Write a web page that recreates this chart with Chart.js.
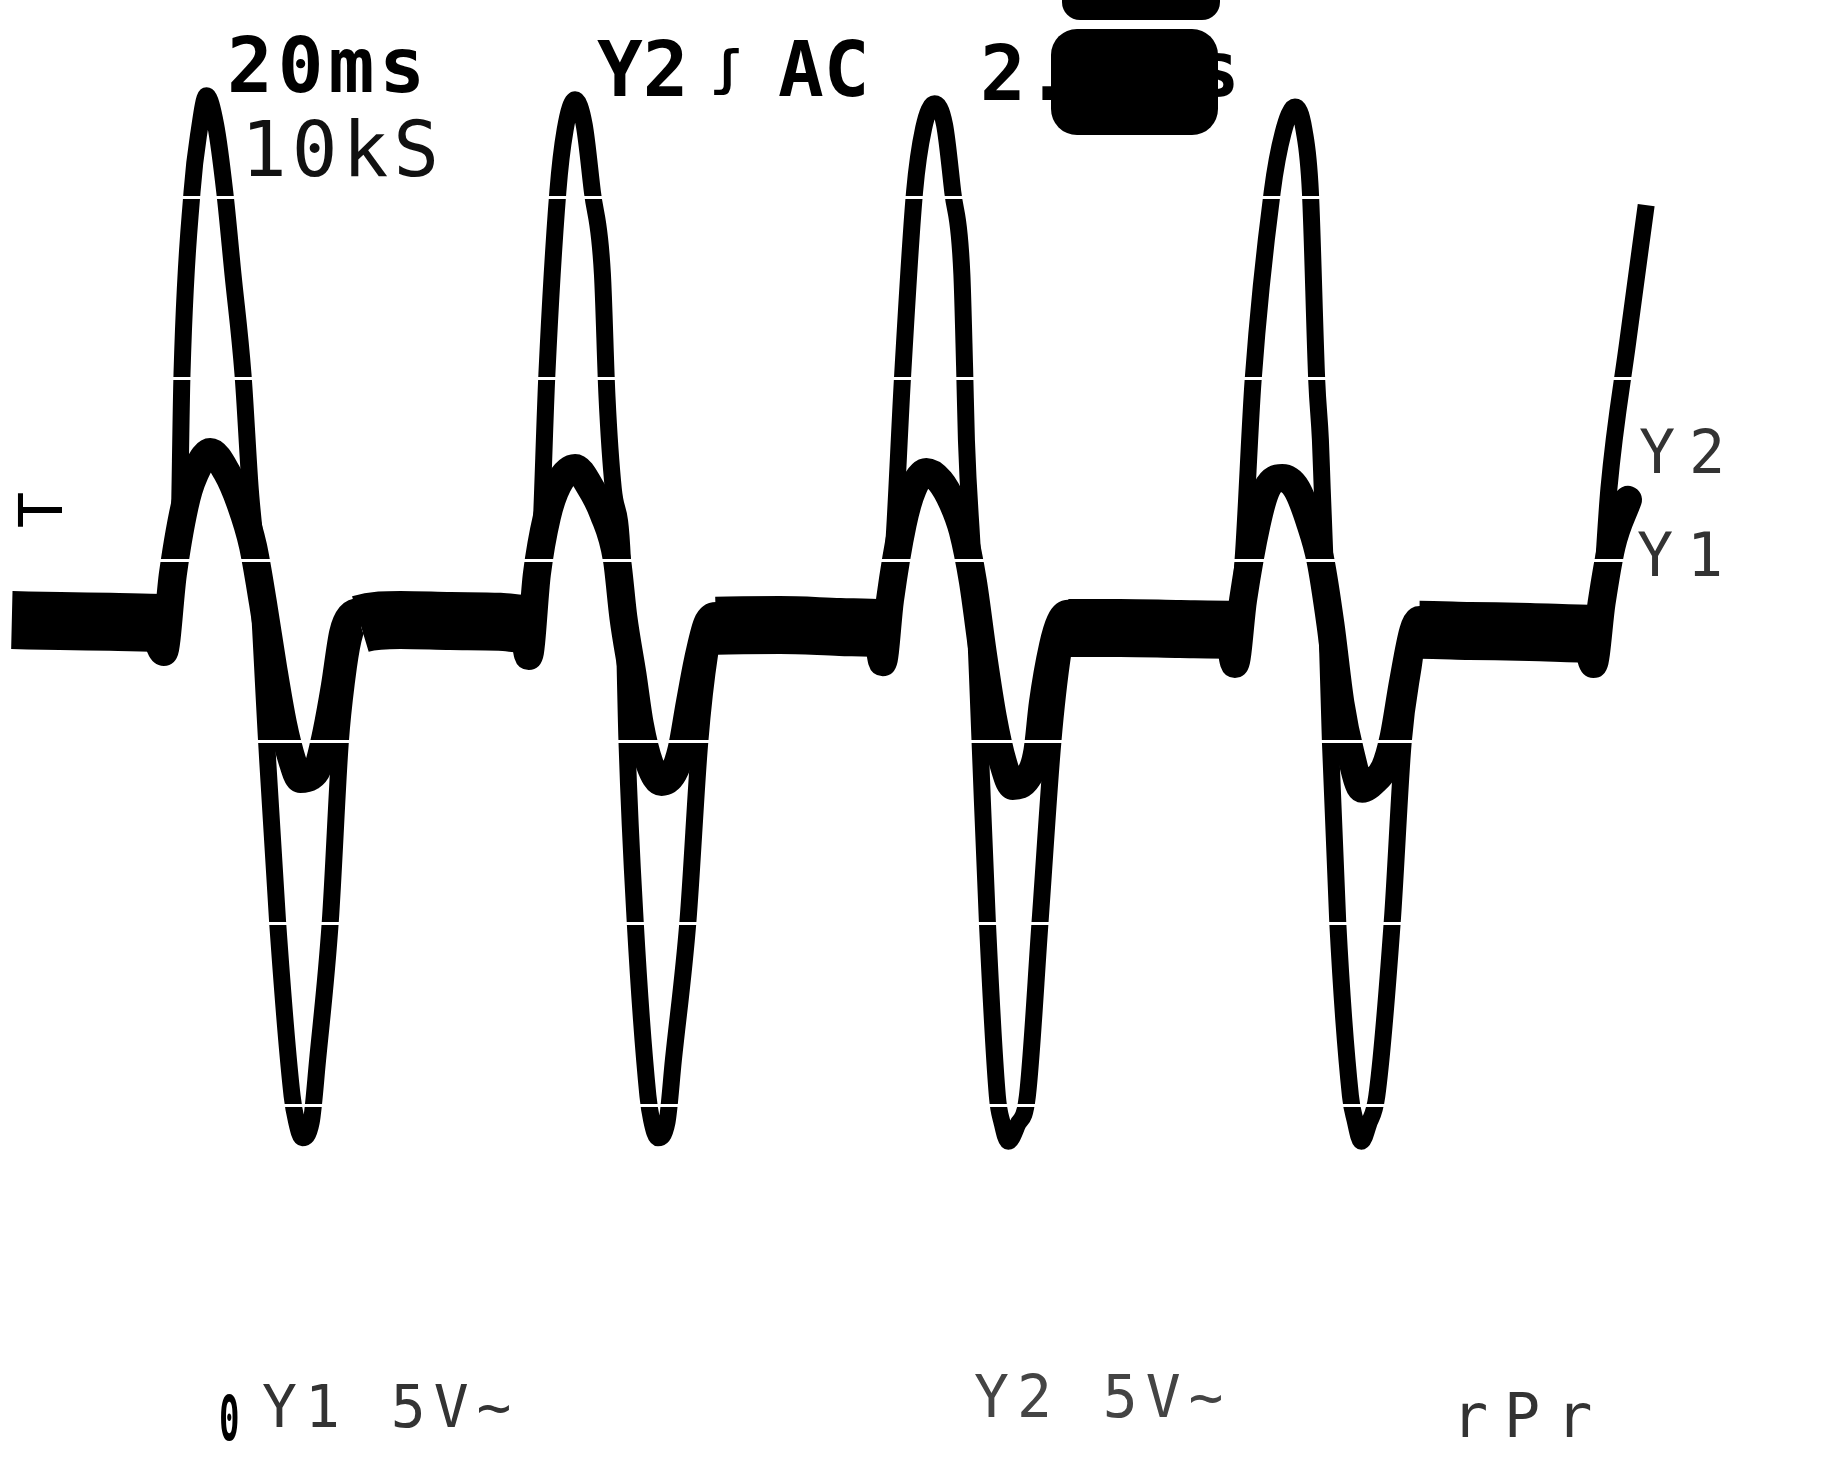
<!DOCTYPE html>
<html>
<head>
<meta charset="utf-8">
<script src="https://cdn.jsdelivr.net/npm/chart.js@4.4.0/dist/chart.umd.min.js"></script>
<style>
  html, body { margin: 0; padding: 0; background: #ffffff; overflow: hidden; }
  #wrap { position: relative; width: 1829px; height: 1476px; background: #ffffff; }
</style>
</head>
<body>
<div id="wrap"><canvas id="scope"></canvas></div>
<script>
// ---------------- data (time in ms, amplitude in volts) ----------------
const y1TimeMs = [
  3.3, 6.6, 12.1, 16.5, 18.0,
  19.0, 20.5, 21.8, 23.1, 24.9, 26.4, 27.8, 28.9, 30.0, 31.1, 32.1, 33.0, 34.1, 34.9, 35.9, 36.8, 37.7, 38.5, 39.6,
  44.0, 49.5, 54.9, 57.4, 58.1,
  59.0, 60.1, 61.3, 63.2, 64.8, 66.3, 67.8, 68.5, 69.5, 70.3, 71.4, 72.7, 74.0, 74.9, 75.8, 76.7, 77.7, 78.7,
  85.7, 92.3, 96.3, 97.0,
  97.8, 99.2, 100.3, 101.8, 103.3, 104.7, 105.8, 106.9, 108.0, 109.1, 110.2, 111.3, 112.9, 114.0, 114.6, 115.7, 116.5, 117.4,
  123.1, 129.7, 134.9, 135.7,
  136.6, 138.1, 139.2, 140.9, 142.5, 144.0, 145.1, 146.2, 147.3, 148.4, 149.7, 150.9, 152.2, 153.1, 154.2, 155.3, 156.0,
  161.5, 168.1, 174.2, 175.1,
  176.0, 177.1, 178.9
];
const y1Volts = [
  3.36, 3.36, 3.33, 3.31, 2.48,
  4.63, 6.72, 7.60, 7.99, 7.44, 6.58, 5.40, 3.83, 2.07, 0.50, -0.50, -1.02, -0.96, -0.72, 0.30, 1.54, 3.00, 3.47, 3.58,
  3.42, 3.36, 3.33, 3.28, 2.37,
  4.63, 6.20, 7.08, 7.55, 7.05, 6.30, 5.01, 3.44, 1.87, 0.50, -0.61, -1.10, -0.85, -0.20, 1.07, 2.26, 3.25, 3.47,
  3.25, 3.20, 3.14, 2.20,
  3.91, 6.01, 6.97, 7.44, 7.19, 6.58, 5.81, 4.44, 2.45, 0.69, -0.55, -1.21, -0.99, -0.25, 1.07, 2.64, 3.31, 3.53,
  3.20, 3.14, 3.09, 2.15,
  3.91, 6.01, 6.97, 7.27, 6.97, 6.01, 5.01, 3.25, 1.07, -0.30, -1.29, -1.10, -0.69, 0.08, 1.68, 3.06, 3.36,
  3.09, 3.03, 2.98, 2.15,
  3.83, 5.40, 6.67
];
const y2TimeMs = [
  1.3, 6.6, 12.1, 18.1,
  19.6, 20.0, 21.1, 21.9, 22.7, 23.7, 24.7, 25.6, 26.7, 27.5, 28.2, 29.3, 30.5, 32.1, 32.6, 33.2, 34.2, 34.9, 36.3, 37.4, 38.1, 38.8, 39.6,
  44.0, 49.5, 54.9, 58.0,
  59.3, 60.1, 61.3, 62.1, 63.2, 64.2, 65.1, 66.2, 66.7, 67.4, 68.4, 68.9, 69.8, 71.2, 71.6, 72.3, 73.3, 74.0, 75.6, 76.9, 78.0, 78.7,
  85.7, 92.3, 97.1,
  98.1, 99.2, 100.5, 101.5, 102.7, 103.8, 104.7, 105.7, 106.0, 106.2, 106.9, 107.7, 108.5, 109.6, 110.1, 110.8, 111.8, 112.9, 114.3, 115.7, 116.8, 117.4,
  123.1, 129.7, 135.8,
  136.6, 137.7, 139.8, 141.0, 142.3, 143.3, 144.0, 144.7, 145.1, 145.3, 145.6, 146.2, 147.0, 148.4, 148.9, 149.6, 150.4, 151.3, 153.0, 154.2, 155.3, 156.0,
  161.5, 168.1, 175.4,
  175.9, 176.8, 178.9, 180.9
];
const y2Volts = [
  3.36, 3.33, 3.31, 3.28,
  5.01, 10.14, 15.15, 16.86, 17.80, 17.00, 15.15, 12.89, 10.14, 6.97, 5.01, 0.00, -4.93, -9.75, -10.47, -10.90, -10.47, -8.76, -4.93, 0.00, 1.71, 2.81, 3.25,
  3.36, 3.33, 3.31, 3.25,
  5.01, 10.14, 15.15, 16.86, 17.69, 17.00, 15.15, 12.89, 9.53, 6.97, 5.01, 0.00, -4.93, -9.75, -10.41, -10.90, -10.47, -8.76, -4.93, 0.00, 2.45, 3.20,
  3.22, 3.17, 3.14,
  5.01, 10.14, 15.15, 16.91, 17.58, 17.00, 15.15, 12.89, 10.33, 8.32, 5.01, 0.00, -4.93, -9.75, -10.47, -11.00, -10.55, -9.75, -4.93, 0.00, 2.45, 3.14,
  3.14, 3.11, 3.09,
  5.01, 9.94, 15.15, 16.78, 17.49, 16.86, 15.15, 9.94, 8.32, 6.97, 5.01, 0.00, -4.93, -9.75, -10.41, -11.00, -10.52, -9.75, -4.93, 0.00, 2.07, 3.09,
  3.06, 3.03, 2.98,
  3.83, 6.97, 11.07, 14.79
];

// screen axis ranges (10 x 20 ms, 8 x 5 V graticule)
const timeRangeMs = [0, 200.99];
const voltRange = [-20.22, 20.44];
const voltsPerDiv = 5;

// on-screen readouts
const timebaseLabel = '20ms';
const sampleLabel = '10kS';
const triggerChannel = 'Y2';
const triggerSlope = 'ʃ';
const triggerCoupling = 'AC';
const delayLabel = '2.';
const delayUnit = 's';
const markerLabel = 'T';
const ch2Marker = 'Y2';
const ch1Marker = 'Y1';
const groundLabel = '0';
const ch1Scale = 'Y1 5V~';
const ch2Scale = 'Y2 5V~';
const modeLabel = 'rPr';

// ---------------- helpers ----------------
const toPoints = (xs, ys) => xs.map((x, i) => ({ x: x, y: ys[i] }));
const slopeCos = (c) => {
  const dx = Math.abs(c.p1.x - c.p0.x), dy = Math.abs(c.p1.y - c.p0.y);
  return dx / (Math.hypot(dx, dy) || 1);
};

const screenText = {
  id: 'screenText',
  afterDraw(chart) {
    const ctx = chart.ctx;
    ctx.save();
    ctx.textAlign = 'left';
    ctx.textBaseline = 'alphabetic';
    const put = (txt, x, y, font, ls, color) => {
      ctx.font = font;
      ctx.letterSpacing = (ls || 0) + 'px';
      ctx.fillStyle = color || '#000';
      ctx.fillText(txt, x, y);
    };
    const mono = '"DejaVu Sans Mono", "Liberation Mono", monospace';
    // top readouts
    put(timebaseLabel, 227, 92, 'bold 76px ' + mono, 5);
    put(sampleLabel, 241, 176, '76px ' + mono, 5, '#111');
    put(triggerChannel, 597, 96, 'bold 76px ' + mono, 0);
    put(triggerSlope, 712, 85, 'bold 48px ' + mono, 0);
    put(triggerCoupling, 778, 96, 'bold 76px ' + mono, 0);
    put(delayLabel, 980, 100, 'bold 76px ' + mono, 0);
    put(delayUnit, 1194, 96, 'bold 76px ' + mono, 0);
    // ink blot covering part of the delay readout
    ctx.letterSpacing = '0px';
    ctx.fillStyle = '#000';
    ctx.beginPath();
    ctx.roundRect(1051, 29, 167, 106, 26);
    ctx.fill();
    ctx.beginPath();
    ctx.roundRect(1062, -25, 158, 45, 18);
    ctx.fill();
    // trigger level marker
    ctx.save();
    ctx.translate(46, 510);
    ctx.rotate(-Math.PI / 2);
    ctx.textAlign = 'center';
    ctx.textBaseline = 'middle';
    ctx.font = '60px ' + mono;
    ctx.fillStyle = '#000';
    ctx.fillText(markerLabel, 0, 0);
    ctx.restore();
    // channel markers at the right
    put(ch2Marker, 1639, 473, '60px ' + mono, 14, '#333');
    put(ch1Marker, 1637, 576, '60px ' + mono, 14, '#333');
    // bottom status line
    ctx.save();
    ctx.translate(219, 1440);
    ctx.scale(0.55, 1);
    put(groundLabel, 0, 0, 'bold 62px ' + mono, 0);
    ctx.restore();
    put(ch1Scale, 262, 1427, '58px ' + mono, 8, '#333');
    put(ch2Scale, 974, 1417, '58px ' + mono, 8, '#444');
    put(modeLabel, 1452, 1437, '60px ' + mono, 16, '#333');
    ctx.restore();
  }
};

new Chart(document.getElementById('scope'), {
  type: 'line',
  data: {
    datasets: [
      {
        label: 'Y2',
        data: toPoints(y2TimeMs, y2Volts),
        borderColor: '#000',
        borderWidth: 17,
        borderCapStyle: 'butt',
        borderJoinStyle: 'round',
        pointRadius: 0,
        cubicInterpolationMode: 'monotone',
        fill: false,
        segment: {
          borderWidth: (c) => (slopeCos(c) > 0.95 ? 58 : 17)
        }
      },
      {
        label: 'Y1',
        data: toPoints(y1TimeMs, y1Volts),
        borderColor: '#000',
        borderWidth: 28,
        borderCapStyle: 'round',
        borderJoinStyle: 'round',
        pointRadius: 0,
        cubicInterpolationMode: 'monotone',
        fill: false
      }
    ]
  },
  options: {
    responsive: true,
    maintainAspectRatio: false,
    animation: false,
    devicePixelRatio: 1,
    layout: { padding: 0 },
    plugins: { legend: { display: false }, tooltip: { enabled: false }, title: { display: false } },
    scales: {
      x: {
        type: 'linear',
        min: timeRangeMs[0],
        max: timeRangeMs[1],
        display: false
      },
      y: {
        type: 'linear',
        min: voltRange[0],
        max: voltRange[1],
        ticks: { display: false, stepSize: voltsPerDiv, includeBounds: false },
        border: { display: false },
        grid: { color: '#ffffff', lineWidth: 3, drawTicks: false, tickLength: 0, z: 1 }
      }
    }
  },
  plugins: [screenText]
});
</script>
</body>
</html>
